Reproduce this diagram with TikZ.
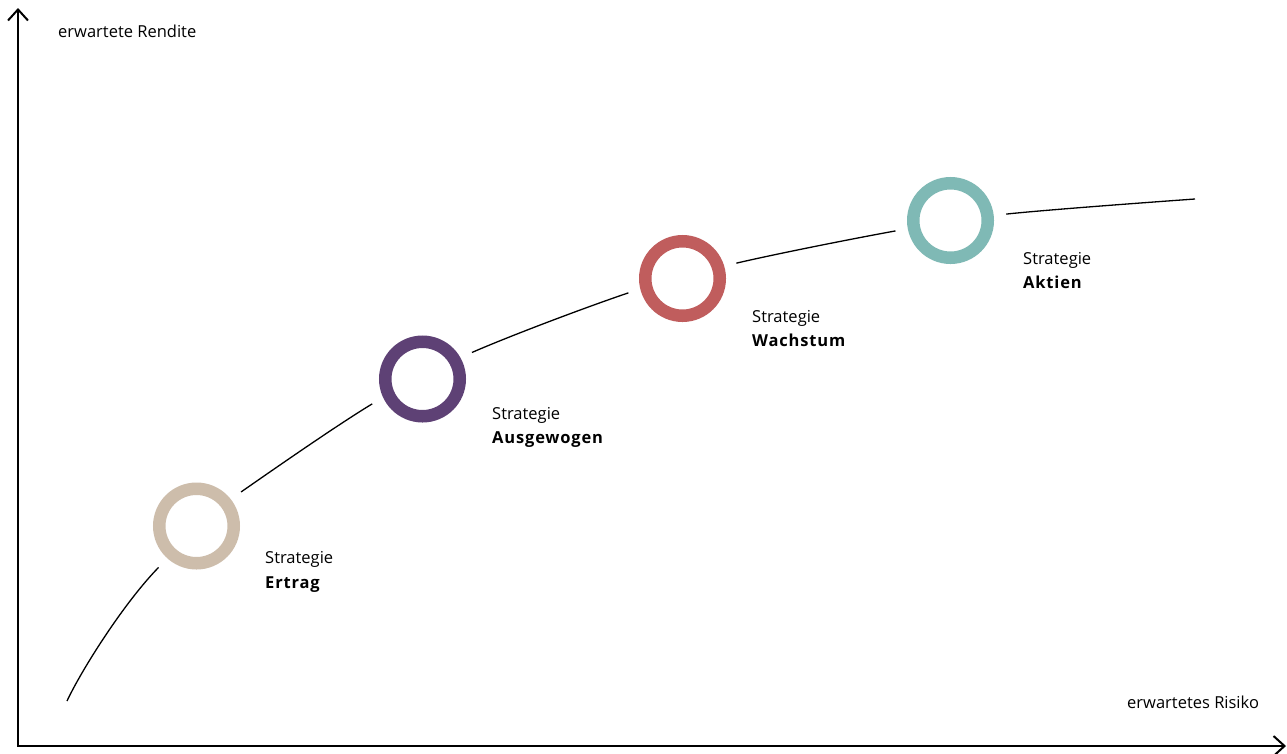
\documentclass[tikz,border=0pt]{standalone}
\usepackage{fontspec}
\setmainfont{Open Sans}
\usetikzlibrary{arrows.meta}
\definecolor{cErtrag}{HTML}{CDBDAB}
\definecolor{cAusg}{HTML}{5E4175}
\definecolor{cWachs}{HTML}{C05D5D}
\definecolor{cAktien}{HTML}{7FB9B5}
\tikzset{
  axis/.style={line width=2pt, -{Straight Barb[length=11pt,width=20pt,line width=2pt]}},
  curveline/.style={line width=1.3pt},
  ring/.style={circle, draw=#1, line width=12.5pt, minimum size=74.5pt, inner sep=0pt, fill=white,
    preaction={draw=white, line width=37.5pt}},
  lbl/.style={anchor=base west, inner sep=0pt, font=\fontsize{16.5}{19}\selectfont},
  lblb/.style={lbl, font=\fontsize{16.5}{19}\selectfont\bfseries\addfontfeatures{LetterSpace=5}},
}
\begin{document}
\begin{tikzpicture}[x=1pt,y=-1pt]
\useasboundingbox (0,0) rectangle (1287,753);
% axes
\coordinate (o) at (18,746);
\coordinate (ytip) at (18,8);
\coordinate (xtip) at (1286,746);
\draw[axis] (o) -- (ytip);
\draw[axis] ([xshift=-1pt]o) -- (xtip);
% curve
\coordinate (cs) at (67,701);
\coordinate (ce) at (1195,199);
\coordinate (p1) at (196.5,526);
\coordinate (p2) at (422.5,379);
\coordinate (p3) at (682.5,278.5);
\coordinate (p4) at (950.5,220.5);
\coordinate (q1) at (158,568);
\draw[curveline] (cs) .. controls (82,669) and (124,603) .. (q1) -- (p1);
\draw[curveline] plot[smooth, tension=0.55] coordinates {(p1) (241,492) (372,404) (473,352) (628,293) (737,263) (895,231) (1007,214) (ce)};
% rings
\node[ring=cErtrag] (ertrag) at (p1) {};
\node[ring=cAusg] (ausg) at (p2) {};
\node[ring=cWachs] (wachs) at (p3) {};
\node[ring=cAktien] (aktien) at (p4) {};
% labels
\node[lbl] (ylab) at (58,37) {erwartete Rendite};
\node[lbl] (xlab) at (1127,708) {erwartetes Risiko};
\node[lbl] (t1a) at (265,563) {Strategie};
\node[lblb] (t1b) at (265,588) {Ertrag};
\node[lbl] (t2a) at (492,419) {Strategie};
\node[lblb] (t2b) at (492,443) {Ausgewogen};
\node[lbl] (t3a) at (752,322) {Strategie};
\node[lblb] (t3b) at (752,346) {Wachstum};
\node[lbl] (t4a) at (1023,264) {Strategie};
\node[lblb] (t4b) at (1023,288) {Aktien};
\end{tikzpicture}
\end{document}
